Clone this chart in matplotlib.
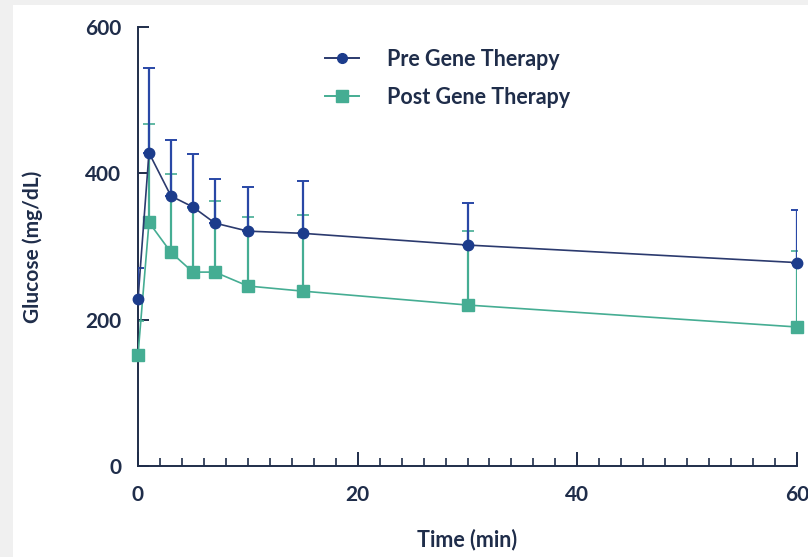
import matplotlib.pyplot as plt
from matplotlib.lines import Line2D
from matplotlib.patches import Rectangle

# data
time = [0, 1, 3, 5, 7, 10, 15, 30, 60]
pre = [228, 428, 369, 354, 332, 321, 318, 302, 278]
pre_err = [42, 116, 77, 72, 60, 60, 71, 58, 72]
post = [152, 333, 292, 265, 265, 246, 239, 220, 190]
post_err = [46, 134, 107, 88, 97, 95, 104, 101, 104]

navy = '#1f2d4a'
blue_dot = '#1c3c8c'
blue_bar = '#2948a6'
teal = '#45ad93'

plt.rcParams['font.family'] = ['Lato', 'DejaVu Sans']

fig = plt.figure(figsize=(8.08, 5.57), dpi=100, facecolor='white')
# light grey frame strips at the top and left edge
fig.patches.append(Rectangle((0, 0), 13/808, 1, transform=fig.transFigure,
                             facecolor='#f0f0f0', edgecolor='none', zorder=0))
fig.patches.append(Rectangle((0, 1-5/557), 1, 5/557, transform=fig.transFigure,
                             facecolor='#f0f0f0', edgecolor='none', zorder=0))

ax = fig.add_axes([138/808, 1-466/557, 659/808, 439/557])
ax.set_facecolor('none')

# post first so the pre series sits on top
ax.errorbar(time, post, yerr=[[0]*len(post), post_err], fmt='none',
            ecolor=teal, elinewidth=1.6, capsize=4, capthick=1.2, zorder=2)
ax.plot(time, post, '-', color=teal, lw=1.2, zorder=3)
ax.plot(time, post, 's', color=teal, ms=9, mec=teal, zorder=4, clip_on=False)

ax.errorbar(time, pre, yerr=[[0]*len(pre), pre_err], fmt='none',
            ecolor=blue_bar, elinewidth=1.6, capsize=4, capthick=1.4, zorder=5)
ax.plot(time, pre, '-', color='#2b3a6e', lw=1.2, zorder=6)
ax.plot(time, pre, 'o', color=blue_dot, ms=7.5, zorder=7, clip_on=False)

ax.set_xlim(0, 60)
ax.set_ylim(0, 600)
ax.set_xticks([0, 20, 40, 60])
ax.set_xticks(range(0, 61, 2), minor=True)
ax.set_yticks([0, 200, 400, 600])

for s in ['top', 'right']:
    ax.spines[s].set_visible(False)
for s in ['left', 'bottom']:
    ax.spines[s].set_color(navy)
    ax.spines[s].set_linewidth(1.4)

ax.tick_params(axis='x', which='major', direction='in', length=10, width=1.4,
               color=navy, pad=14, labelsize=15, labelcolor=navy)
ax.tick_params(axis='x', which='minor', direction='in', length=6, width=1.2, color=navy)
ax.tick_params(axis='y', direction='in', length=8, width=1.4, color=navy,
               pad=12, labelsize=15, labelcolor=navy)
for lab in ax.get_xticklabels() + ax.get_yticklabels():
    lab.set_fontweight('bold')

ax.set_xlabel('Time (min)', fontsize=15.5, fontweight='bold', color=navy, labelpad=17)
ax.set_ylabel('Glucose (mg/dL)', fontsize=15, fontweight='bold', color=navy, labelpad=30)

handles = [
    Line2D([], [], color='#2b3a6e', lw=1.4, marker='o', ms=7, mfc=blue_dot, mec=blue_dot),
    Line2D([], [], color=teal, lw=1.4, marker='s', ms=9, mfc=teal, mec=teal),
]
leg = ax.legend(handles, ['Pre Gene Therapy', 'Post Gene Therapy'],
                loc='upper left', bbox_to_anchor=(168/659, 0.994),
                frameon=False, handlelength=1.55, handletextpad=1.3,
                labelspacing=0.78, prop={'size': 15.5, 'weight': 'bold'})
for t in leg.get_texts():
    t.set_color(navy)

fig.savefig('out.png', dpi=100, facecolor='white')
